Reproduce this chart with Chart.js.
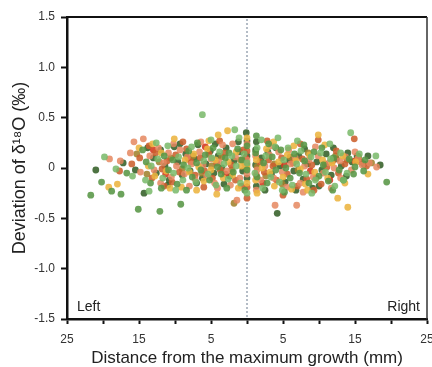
<!DOCTYPE html>
<html>
<head>
<meta charset="utf-8">
<script src="https://cdn.jsdelivr.net/npm/chart.js@4"></script>
<style>
  html, body { margin: 0; padding: 0; background: #fff; }
  #wrap { width: 432px; height: 367px; }
</style>
</head>
<body>
<div id="wrap"><canvas id="chart"></canvas></div>
<script>
// distance from max growth (mm): negative = left side, positive = right side
const darkGreen = [[-21.0,-0.02],[-17.2,0.05],[-15.5,-0.02],[-14.3,-0.25],[-13.0,0.10],[-12.6,-0.05],[-12.0,0.18],[-11.4,0.02],[-10.8,-0.12],[-10.1,0.21],[-9.6,0.06],[-9.0,-0.07],[-8.5,0.14],[-7.9,-0.03],[-7.3,0.09],[-6.8,0.23],[-6.2,-0.10],[-5.7,0.04],[-5.1,0.17],[-4.6,-0.05],[-4.0,0.12],[-3.5,0.00],[-2.9,0.20],[-2.4,-0.08],[-1.8,0.07],[-1.2,0.26],[-0.6,-0.03],[-0.1,0.35],[0.0,0.12],[0.0,-0.10],[1.3,0.26],[1.2,0.03],[1.3,-0.18],[2.0,0.10],[2.9,0.16],[3.4,-0.06],[4.2,-0.45],[4.6,0.02],[5.3,-0.14],[5.9,0.08],[6.5,-0.03],[7.2,0.12],[7.8,-0.11],[8.4,0.04],[9.1,-0.20],[9.7,0.06],[10.4,-0.02],[11.0,0.14],[11.7,-0.07],[12.4,0.09],[13.1,0.02],[13.8,-0.08],[14.6,0.06],[15.3,0.12],[16.2,0.04],[18.5,0.03],
    [-13.8,0.20],[-11.0,-0.17],[-9.3,0.24],[-7.0,-0.15],[-4.4,0.24],[-3.2,-0.16],[-1.0,0.16],[0.0,0.27],[1.2,0.18],[2.5,-0.22],[4.0,0.20],[6.8,-0.22],[8.0,0.19],[10.0,-0.18],[12.0,0.20],[14.0,0.15],[16.8,0.12]];
const green = [[-21.7,-0.27],[-20.2,-0.14],[-18.8,-0.23],[-17.5,-0.26],[-16.7,-0.05],[-15.1,-0.41],[-14.0,0.06],[-13.4,-0.15],[-12.1,-0.43],[-11.5,0.12],[-10.9,-0.02],[-10.3,0.08],[-9.7,-0.16],[-9.2,-0.36],[-8.8,0.03],[-8.1,0.17],[-7.6,-0.09],[-7.0,0.05],[-6.4,-0.02],[-5.8,0.13],[-5.2,-0.12],[-4.7,0.20],[-4.1,0.01],[-3.6,-0.06],[-3.0,0.10],[-2.5,0.15],[-1.9,-0.04],[-1.3,0.19],[-0.7,0.08],[0.0,0.22],[0.0,-0.02],[1.2,0.15],[1.4,-0.09],[2.3,0.05],[2.8,-0.15],[3.5,0.11],[4.0,-0.02],[4.7,0.18],[5.4,0.00],[6.0,-0.10],[6.6,0.14],[7.3,-0.05],[8.0,0.07],[8.6,-0.15],[9.3,0.16],[10.0,-0.08],[10.6,0.03],[11.3,-0.13],[12.0,0.10],[12.8,-0.02],[13.4,-0.12],[14.2,0.09],[15.0,0.01],[16.4,0.08],[19.4,-0.14],
    [-14.5,0.18],[-11.9,-0.20],[-8.4,-0.22],[-6.9,0.25],[-2.8,-0.20],[-0.3,-0.22],[1.3,0.32],[3.0,0.24],[5.2,-0.24],[7.9,0.23],[10.4,0.20],[11.9,-0.22],[14.8,-0.06],[16.2,-0.03]];
const lightGreen = [[-19.8,0.11],[-18.2,-0.01],[-15.9,-0.08],[-13.6,-0.23],[-13.3,0.02],[-12.4,0.09],[-11.7,-0.10],[-11.0,0.22],[-10.2,-0.05],[-9.5,0.11],[-8.9,-0.12],[-8.2,0.00],[-7.7,0.21],[-7.1,-0.14],[-6.2,0.53],[-6.0,0.07],[-5.4,-0.06],[-4.9,0.10],[-4.3,-0.17],[-3.8,0.16],[-3.2,0.04],[-2.6,-0.11],[-2.1,0.12],[-1.7,0.38],[-1.5,0.02],[-0.9,-0.15],[-0.4,0.14],[0.0,0.05],[1.1,-0.05],[1.4,0.20],[2.2,-0.20],[2.6,0.12],[3.3,-0.09],[3.9,0.21],[4.3,0.30],[4.5,-0.14],[5.1,0.08],[5.7,0.20],[6.3,-0.17],[6.9,0.04],[7.5,0.17],[8.2,-0.06],[8.9,0.11],[9.5,-0.12],[10.2,0.15],[10.9,-0.04],[11.6,0.09],[12.2,-0.18],[13.0,0.15],[13.4,-0.12],[14.4,0.35],[15.6,0.14],[17.9,0.12],
    [-14.1,-0.12],[-12.6,0.25],[-9.9,-0.22],[-5.0,0.28],[-1.1,0.30],[0.0,-0.25],[2.0,0.28],[4.9,-0.22],[7.0,0.27],[9.0,-0.25],[11.5,0.24],[13.9,-0.05]];
const yellow = [[-19.2,-0.19],[-18.0,-0.16],[-15.0,0.20],[-13.7,0.02],[-12.8,-0.08],[-11.9,0.15],[-11.2,-0.03],[-10.1,0.29],[-9.1,-0.19],[-8.6,0.08],[-8.0,-0.04],[-7.4,0.14],[-6.7,0.01],[-6.0,-0.13],[-5.5,0.19],[-5.0,-0.02],[-4.4,0.08],[-4.2,-0.26],[-4.0,0.33],[-3.3,-0.10],[-2.7,0.37],[-2.6,0.06],[-2.0,-0.07],[-1.5,0.16],[-0.8,0.02],[0.0,0.00],[0.0,-0.15],[1.3,0.08],[1.2,-0.12],[2.1,0.00],[2.7,0.19],[3.2,-0.04],[3.8,-0.18],[4.4,0.06],[5.0,-0.09],[5.6,0.13],[6.2,-0.21],[6.8,0.07],[7.4,-0.01],[8.1,-0.16],[8.7,0.13],[9.4,-0.04],[9.9,0.33],[10.5,0.08],[11.2,-0.10],[11.8,0.05],[12.6,-0.30],[13.3,0.12],[14.0,-0.39],[15.1,0.06],[16.8,-0.06],
    [-13.1,0.24],[-10.7,-0.20],[-7.0,-0.22],[-5.3,0.27],[-1.2,-0.20],[0.0,0.30],[1.4,-0.25],[3.7,0.26],[6.5,0.22],[8.4,-0.22],[10.8,0.23],[13.6,-0.15]];
const salmon = [[-19.1,0.09],[-17.6,0.07],[-16.2,0.15],[-15.7,0.26],[-14.4,0.29],[-14.8,-0.04],[-13.5,0.12],[-12.9,-0.02],[-12.3,0.20],[-11.6,0.05],[-10.9,0.15],[-10.5,-0.09],[-9.8,0.02],[-9.3,0.18],[-8.7,-0.06],[-8.3,0.11],[-7.7,0.04],[-7.2,-0.11],[-6.6,0.16],[-6.1,0.03],[-5.6,-0.08],[-5.0,0.09],[-4.5,-0.15],[-3.9,0.06],[-3.4,0.23],[-2.8,-0.03],[-2.3,-0.17],[-1.6,0.11],[-1.4,-0.32],[-1.0,-0.10],[-0.3,0.04],[0.0,0.08],[0.0,-0.06],[1.2,0.12],[1.4,-0.02],[1.9,-0.12],[2.5,0.02],[3.1,0.13],[3.7,-0.10],[3.9,-0.37],[4.4,0.16],[4.9,-0.04],[5.5,-0.19],[6.1,0.04],[6.9,-0.37],[6.7,0.10],[7.4,-0.15],[8.0,0.02],[8.6,0.08],[9.2,-0.09],[9.9,0.12],[10.6,-0.05],[11.4,0.05],[12.1,0.00],[12.9,0.07],[13.7,0.11],[14.5,-0.02],[15.4,0.09],[16.0,0.03],[17.0,0.05],[18.0,0.01],
    [-12.0,-0.15],[-10.2,0.24],[-8.0,-0.18],[-6.4,0.26],[-4.1,-0.20],[-2.0,0.24],[0.0,0.24],[1.3,-0.22],[3.4,0.22],[5.8,0.18],[7.8,-0.24],[9.5,0.21],[11.7,-0.20],[13.0,-0.10],[15.0,0.16]];
const rust = [[-17.7,-0.03],[-16.0,0.04],[-14.9,0.10],[-13.2,-0.10],[-12.7,0.15],[-11.8,-0.01],[-11.1,0.07],[-10.4,-0.14],[-9.9,0.13],[-9.4,-0.04],[-8.4,0.19],[-7.8,0.06],[-7.2,-0.07],[-6.5,0.10],[-5.9,-0.03],[-5.3,0.14],[-4.8,-0.10],[-4.2,0.05],[-3.7,-0.02],[-3.1,0.15],[-2.2,0.03],[-1.6,-0.12],[-0.5,0.18],[0.0,0.17],[0.0,-0.19],[1.3,-0.07],[1.8,0.06],[2.4,-0.04],[3.0,0.08],[3.6,0.02],[4.1,-0.12],[4.8,0.10],[5.6,-0.06],[6.4,0.05],[7.0,-0.18],[7.7,0.09],[8.3,-0.11],[9.0,0.03],[9.9,0.28],[10.3,-0.16],[11.1,0.01],[11.9,0.07],[12.7,-0.05],[13.6,0.04],[14.9,0.29],[15.8,0.06],[16.6,0.02],
    [-13.6,0.22],[-11.5,-0.18],[-8.9,0.26],[-6.0,-0.19],[-3.8,0.27],[-0.8,-0.18],[0.0,-0.30],[2.8,0.27],[5.0,-0.27],[7.4,0.24],[9.3,-0.22],[12.4,0.17]];
const olive = [[-15.3,0.14],[-13.9,-0.06],[-12.2,0.06],[-10.6,0.10],[-9.0,-0.01],[-7.5,0.12],[-6.3,-0.05],[-4.9,0.02],[-3.5,0.11],[-2.1,-0.02],[-1.8,-0.35],[-0.9,0.08],[0.0,0.03],[1.4,0.01],[2.6,-0.08],[3.8,0.04],[4.9,-0.16],[6.0,0.11],[7.1,-0.02],[8.5,0.15],[9.6,-0.10],[10.8,0.04],[12.3,0.12],[13.9,0.08],[15.5,0.11],[17.3,0.05]];
const red = [[-13.0,0.18],[-11.3,-0.06],[-8.1,0.09],[-5.8,0.21],[-3.0,-0.06],[-0.2,0.10],[2.2,-0.15],[5.2,0.03],[8.8,-0.03],[11.5,-0.12],[15.0,0.07]];

const xTicks = [-25, -15, -5, 5, 15, 25];
const yTicks = [-1.5, -1.0, -0.5, 0, 0.5, 1.0, 1.5];

const seriesList = [
    { data: lightGreen, color: 'rgba(120, 185, 105, 0.85)' },
    { data: green, color: 'rgba(88, 150, 70, 0.88)' },
    { data: yellow, color: 'rgba(236, 180, 64, 0.88)' },
    { data: salmon, color: 'rgba(229, 135, 95, 0.85)' },
    { data: rust, color: 'rgba(204, 96, 45, 0.88)' },
    { data: olive, color: 'rgba(160, 130, 45, 0.88)' },
    { data: red, color: 'rgba(214, 58, 34, 0.9)' },
    { data: darkGreen, color: 'rgba(58, 100, 45, 0.9)' }
];

const FONT = '"Liberation Sans", Arial, sans-serif';

// frame, dashed centre line and side labels
const extras = {
    id: 'extras',
    beforeDatasetsDraw(chart) {
        const { ctx, chartArea, scales } = chart;
        const x0 = scales.x.getPixelForValue(0);
        ctx.save();
        ctx.strokeStyle = '#8c99a8';
        ctx.lineWidth = 1.3;
        ctx.setLineDash([2, 2]);
        ctx.beginPath();
        ctx.moveTo(x0, chartArea.top + 2);
        ctx.lineTo(x0, chartArea.bottom);
        ctx.stroke();
        ctx.restore();
    },
    afterDraw(chart) {
        const { ctx, chartArea } = chart;
        ctx.save();
        ctx.strokeStyle = '#111';
        ctx.lineWidth = 2;
        ctx.beginPath();
        ctx.moveTo(chartArea.left, chartArea.top);
        ctx.lineTo(chartArea.right, chartArea.top);
        ctx.stroke();
        ctx.strokeStyle = '#333';
        ctx.lineWidth = 1.5;
        ctx.beginPath();
        ctx.moveTo(chartArea.right, chartArea.top);
        ctx.lineTo(chartArea.right, chartArea.bottom);
        ctx.stroke();

        ctx.fillStyle = '#222';
        ctx.font = '14px ' + FONT;
        ctx.textBaseline = 'middle';
        ctx.textAlign = 'left';
        ctx.fillText('Left', chartArea.left + 10, chartArea.bottom - 12);
        ctx.textAlign = 'right';
        ctx.fillText('Right', chartArea.right - 7, chartArea.bottom - 12);
        ctx.restore();
    }
};

new Chart(document.getElementById('chart'), {
    type: 'scatter',
    data: {
        datasets: seriesList.map(s => ({
            data: s.data.map(p => ({ x: p[0], y: p[1] })),
            backgroundColor: s.color,
            borderWidth: 0,
            pointRadius: 3.4
        }))
    },
    options: {
        responsive: true,
        maintainAspectRatio: false,
        animation: false,
        layout: { padding: { top: 17, right: 5, left: 0, bottom: 0 } },
        plugins: { legend: { display: false }, tooltip: { enabled: false } },
        scales: {
            x: {
                type: 'linear',
                min: -25,
                max: 25,
                afterFit: s => { s.height = 48; s.paddingLeft = 0; s.paddingRight = 0; },
                afterBuildTicks: s => {
                    s.ticks = [-25, -20, -15, -10, -5, 0, 5, 10, 15, 20, 25].map(v => ({ value: v }));
                },
                border: { display: true, color: '#111', width: 2.5 },
                grid: { display: true, drawOnChartArea: false, drawTicks: true, tickLength: 5, tickWidth: 2, tickColor: '#111' },
                ticks: {
                    padding: 8,
                    color: '#333',
                    font: { family: FONT, size: 12 },
                    maxRotation: 0,
                    autoSkip: false,
                    callback: v => xTicks.includes(v) ? String(Math.abs(v)) : ''
                },
                title: {
                    display: true,
                    text: 'Distance from the maximum growth (mm)',
                    color: '#222',
                    font: { family: FONT, size: 17, lineHeight: 1.0 },
                    padding: { top: 0, bottom: 0 }
                }
            },
            y: {
                min: -1.5,
                max: 1.5,
                afterFit: s => { s.width = 67; s.paddingTop = 0; s.paddingBottom = 0; },
                afterBuildTicks: s => { s.ticks = yTicks.map(v => ({ value: v })); },
                border: { display: true, color: '#111', width: 2.5 },
                grid: { display: true, drawOnChartArea: false, drawTicks: true, tickLength: 6, tickWidth: 2, tickColor: '#111' },
                ticks: {
                    padding: 6,
                    color: '#333',
                    font: { family: FONT, size: 12 },
                    callback: v => v === 0 ? '0' : v.toFixed(1)
                },
                title: {
                    display: true,
                    text: 'Deviation of δ¹⁸O (‰)',
                    color: '#222',
                    font: { family: FONT, size: 18, lineHeight: 1.2 },
                    padding: { top: 9, bottom: 0 }
                }
            }
        }
    },
    plugins: [extras]
});
</script>
</body>
</html>
